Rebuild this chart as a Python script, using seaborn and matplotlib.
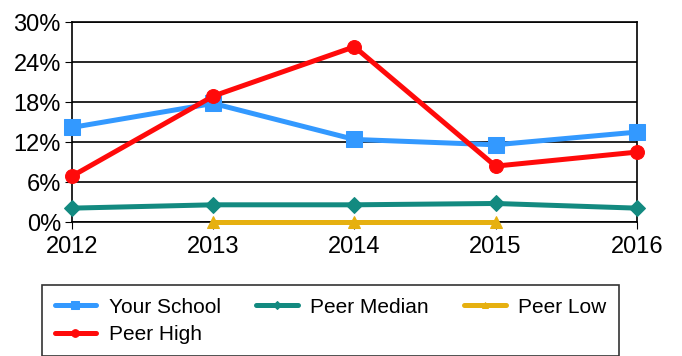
import numpy as np
import pandas as pd
import matplotlib
matplotlib.use("Agg")
import matplotlib.pyplot as plt
import seaborn as sns

years = [2012, 2013, 2014, 2015, 2016]
your_school = [14.2, 17.8, 12.4, 11.6, 13.5]
peer_median = [2.1, 2.6, 2.6, 2.8, 2.1]
peer_low = [np.nan, 0.0, 0.0, 0.0, np.nan]
peer_high = [6.9, 18.9, 26.3, 8.4, 10.5]

series = ["Your School", "Peer Median", "Peer Low", "Peer High"]
colors = {"Your School": "#3399FF", "Peer Median": "#138A80",
          "Peer Low": "#E6B010", "Peer High": "#FF0A0A"}
markers = {"Your School": "s", "Peer Median": "D",
           "Peer Low": "^", "Peer High": "o"}
sizes = {"Your School": 11, "Peer Median": 8, "Peer Low": 9, "Peer High": 10}

df = pd.DataFrame({"year": years, "Your School": your_school,
                   "Peer Median": peer_median, "Peer Low": peer_low,
                   "Peer High": peer_high})
long = df.melt(id_vars="year", var_name="series", value_name="value")

sns.set_style("white")
plt.rcParams["font.family"] = ["Liberation Sans", "DejaVu Sans"]
plt.rcParams["text.color"] = "black"
plt.rcParams["xtick.color"] = "black"
plt.rcParams["ytick.color"] = "black"

fig = plt.figure(figsize=(6.82, 3.56), dpi=100)
ax = fig.add_axes([0.1056, 0.376, 0.828, 0.562])

for name in series:
    sub = long[long["series"] == name].dropna()
    sns.lineplot(data=sub, x="year", y="value", ax=ax, color=colors[name],
                 marker=markers[name], markersize=sizes[name],
                 markeredgecolor=colors[name], linewidth=3.6,
                 label=name, clip_on=False, zorder=3)

ax.set_xlim(2012, 2016)
ax.set_ylim(0, 30)
ax.set_yticks([0, 6, 12, 18, 24, 30])
ax.set_yticklabels([f"{v}%" for v in [0, 6, 12, 18, 24, 30]])
ax.set_xticks(years)
ax.set_xticklabels([str(y) for y in years])
ax.set_xlabel("")
ax.set_ylabel("")
ax.grid(axis="y", color="black", linewidth=1.2)
ax.grid(axis="x", visible=False)
for s in ax.spines.values():
    s.set_color("black")
    s.set_linewidth(1.2)
ax.tick_params(axis="both", labelsize=17, length=5, color="black",
               labelcolor="black", direction="out", left=True, bottom=True,
               pad=3)
ax.tick_params(axis="x", pad=5)

ax.get_legend().remove()
handles, labels = ax.get_legend_handles_labels()
order = [0, 3, 1, 2]
leg = fig.legend([handles[i] for i in order], [labels[i] for i in order],
                 loc="upper left", bbox_to_anchor=(0.0616, 0.199),
                 borderaxespad=0, ncol=3, fontsize=15, frameon=True,
                 fancybox=False, edgecolor="black", handlelength=2.0,
                 markerscale=0.55, borderpad=0.6, labelspacing=0.4,
                 handletextpad=0.6, columnspacing=1.7)
leg.get_frame().set_linewidth(1.2)

fig.savefig("out.png", dpi=100)
